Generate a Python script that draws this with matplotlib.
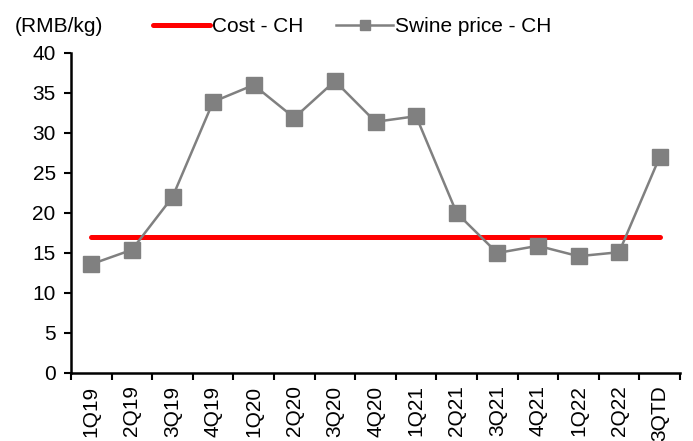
import numpy as np
import matplotlib.pyplot as plt

plt.rcParams['font.family'] = ['Liberation Sans', 'DejaVu Sans']
plt.rcParams['font.size'] = 15

# data
quarters = ["1Q19", "2Q19", "3Q19", "4Q19", "1Q20", "2Q20", "3Q20", "4Q20",
            "1Q21", "2Q21", "3Q21", "4Q21", "1Q22", "2Q22", "3QTD"]
swine_price = [13.6, 15.4, 22.0, 33.9, 36.0, 31.9, 36.5, 31.4,
               32.1, 20.0, 15.0, 15.9, 14.6, 15.1, 27.0]
cost = [17.0] * len(quarters)

x = np.arange(len(quarters))

fig = plt.figure(figsize=(6.93, 4.41), dpi=100)
ax = fig.add_axes([71 / 693, 1 - 373 / 441, (680 - 71) / 693, (373 - 53) / 441])

ax.plot(x, cost, color="#ff0000", lw=3.6, label="Cost - CH", solid_capstyle="round")
ax.plot(x, swine_price, color="#808080", lw=1.8, marker="s", markersize=11,
        label="Swine price - CH")

ax.set_xlim(-0.5, len(quarters) - 0.5)
ax.set_ylim(0, 40)
ax.set_yticks(np.arange(0, 41, 5))

# labels at centres, tick marks between categories
ax.set_xticks(x)
ax.set_xticklabels(quarters, rotation=90, va="top")
ax.set_xticks(np.arange(-0.5, len(quarters), 1), minor=True)
ax.tick_params(axis="x", which="major", length=0, pad=9)
ax.tick_params(axis="x", which="minor", length=5, width=1.5, direction="out")
ax.tick_params(axis="y", length=5, width=1.5, direction="out", pad=6)

for side in ["top", "right"]:
    ax.spines[side].set_visible(False)
for side in ["left", "bottom"]:
    ax.spines[side].set_linewidth(1.8)

fig.text(15 / 693, 1 - 27 / 441, "(RMB/kg)", va="center", ha="left")
fig.legend(loc="center left", bbox_to_anchor=(145 / 693, 1 - 27 / 441), ncol=2,
           frameon=False, handlelength=2.7, handletextpad=0.1, columnspacing=1.6,
           markerscale=0.7, borderaxespad=0)

fig.savefig("out.png", dpi=100)
